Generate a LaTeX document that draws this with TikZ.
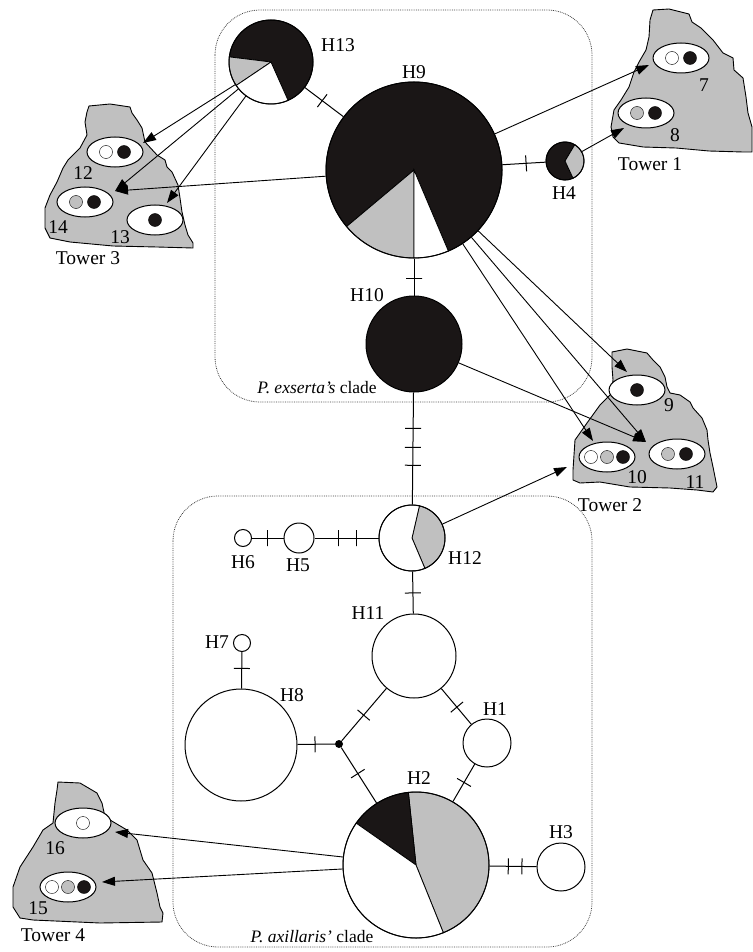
\documentclass[tikz,border=0pt]{standalone}
\usepackage{fontspec}
\setmainfont{Liberation Serif}
\usetikzlibrary{shapes.geometric, arrows.meta}
\definecolor{hapblack}{HTML}{1A1616}
\definecolor{hapgray}{HTML}{C0C0C0}
\definecolor{towergray}{HTML}{C0C0C0}
% one slice of a haplotype pie: centre, radius, start angle, end angle, colour
\newcommand{\pieslice}[5]{\filldraw[fill=#5, line width=0.8pt] (#1) -- ++(#3:#2) arc[start angle=#3, end angle=#4, radius=#2] -- cycle;}
\begin{document}
\begin{tikzpicture}[x=1pt, y=-1pt, >={Triangle[length=13pt,width=9pt]},
  hap/.style={circle, draw, line width=1pt, inner sep=0pt},
  mut/.style={draw, line width=1pt, inner sep=0pt, minimum width=0pt, minimum height=16pt, sloped},
  link/.style={line width=1pt},
  arr/.style={->, line width=0.9pt},
  site/.style={ellipse, draw, fill=white, line width=1pt, minimum width=56pt, minimum height=30pt},
  tower/.style={fill=towergray, draw, line width=0.9pt},
  clade/.style={draw=black!75, densely dotted, line width=0.8pt, rounded corners=45pt},
  lbl/.style={font=\fontsize{19.5}{22}\selectfont, inner sep=0pt}]
  \useasboundingbox (0,0) rectangle (752,952);
  % clades
  \draw[clade] (215,10) rectangle (592,402);
  \draw[clade] (173,496) rectangle (592,947);
  \node[lbl, font=\fontsize{17.5}{20}\selectfont] (cex) at (317,388) {\textit{P. exserta's} clade};
  \node[lbl, font=\fontsize{17.5}{20}\selectfont] (cax) at (312,937) {\textit{P. axillaris'} clade};
  % towers
  \filldraw[tower] (653,10) -- (669,9) -- (689,14) -- (692,22) -- (701,28) -- (713,40) -- (723,53) -- (733,58) -- (734,70) -- (743,78) -- (746,97) -- (748,113) -- (752,127) -- (752,152) -- (743,152) -- (709,151) -- (676,148) -- (643,147) -- (619,143) -- (613,137) -- (611,127) -- (614,110) -- (621,100) -- (629,87) -- (634,72) -- (639,62) -- (646,50) -- (649,37) -- (650,20) -- cycle;
  \filldraw[tower] (612,352) -- (627,349) -- (647,353) -- (653,360) -- (660,367) -- (665,377) -- (667,387) -- (670,393) -- (680,395) -- (690,402) -- (693,408) -- (702,418) -- (707,430) -- (708,440) -- (710,453) -- (713,467) -- (715,477) -- (717,487) -- (713,492) -- (697,490) -- (670,488) -- (630,487) -- (600,482) -- (580,483) -- (573,480) -- (573,470) -- (575,440) -- (587,423) -- (600,405) -- (611,394) -- (613,380) -- (612,367) -- cycle;
  \filldraw[tower] (89,106) -- (110,104) -- (130,107) -- (132,113) -- (137,120) -- (142,128) -- (145,142) -- (157,155) -- (165,160) -- (167,167) -- (172,172) -- (178,185) -- (180,198) -- (182,212) -- (185,225) -- (188,235) -- (193,243) -- (193,248) -- (157,247) -- (113,246) -- (70,242) -- (50,238) -- (45,228) -- (45,208) -- (50,195) -- (57,182) -- (63,168) -- (68,160) -- (73,155) -- (80,148) -- (87,135) -- (85,122) -- (87,112) -- cycle;
  \filldraw[tower] (58,782) -- (80,783) -- (97,793) -- (102,803) -- (105,817) -- (127,830) -- (137,840) -- (143,860) -- (152,873) -- (157,893) -- (160,907) -- (163,913) -- (162,922) -- (100,923) -- (33,920) -- (20,918) -- (13,907) -- (13,887) -- (20,867) -- (33,847) -- (43,830) -- (53,823) -- (55,803) -- (57,790) -- cycle;
  \node[lbl] (tw1) at (650,164) {Tower 1};
  \node[lbl] (tw2) at (610,505) {Tower 2};
  \node[lbl] (tw3) at (88,258) {Tower 3};
  \node[lbl] (tw4) at (53,935) {Tower 4};
  % sites
  \node[site] (s7) at (681,58) {};
  \filldraw[fill=white] ([xshift=-9pt]s7.center) circle (6.5pt);
  \filldraw[fill=hapblack] ([xshift=9pt]s7.center) circle (6.5pt);
  \node[site] (s8) at (646,113) {};
  \filldraw[fill=hapgray] ([xshift=-9pt]s8.center) circle (6.5pt);
  \filldraw[fill=hapblack] ([xshift=9pt]s8.center) circle (6.5pt);
  \node[site] (s9) at (637,390) {};
  \filldraw[fill=hapblack] (s9.center) circle (6.5pt);
  \node[site] (s10) at (607,457) {};
  \filldraw[fill=white] ([xshift=-16pt]s10.center) circle (6.5pt);
  \filldraw[fill=hapgray] (s10.center) circle (6.5pt);
  \filldraw[fill=hapblack] ([xshift=16pt]s10.center) circle (6.5pt);
  \node[site] (s11) at (677,454) {};
  \filldraw[fill=hapgray] ([xshift=-9pt]s11.center) circle (6.5pt);
  \filldraw[fill=hapblack] ([xshift=9pt]s11.center) circle (6.5pt);
  \node[site] (s12) at (115,152) {};
  \filldraw[fill=white] ([xshift=-9pt]s12.center) circle (6.5pt);
  \filldraw[fill=hapblack] ([xshift=9pt]s12.center) circle (6.5pt);
  \node[site] (s13) at (155,220) {};
  \filldraw[fill=hapblack] (s13.center) circle (6.5pt);
  \node[site] (s14) at (85,202) {};
  \filldraw[fill=hapgray] ([xshift=-9pt]s14.center) circle (6.5pt);
  \filldraw[fill=hapblack] ([xshift=9pt]s14.center) circle (6.5pt);
  \node[site] (s15) at (68,887) {};
  \filldraw[fill=white] ([xshift=-16pt]s15.center) circle (6.5pt);
  \filldraw[fill=hapgray] (s15.center) circle (6.5pt);
  \filldraw[fill=hapblack] ([xshift=16pt]s15.center) circle (6.5pt);
  \node[site] (s16) at (83,823) {};
  \filldraw[fill=white] (s16.center) circle (6.5pt);
  \node[lbl] (n7) at (704,85) {7};
  \node[lbl] (n8) at (675,135) {8};
  \node[lbl] (n9) at (669,405) {9};
  \node[lbl] (n10) at (637,477) {10};
  \node[lbl] (n11) at (695,482) {11};
  \node[lbl] (n12) at (83,173) {12};
  \node[lbl] (n13) at (120,237) {13};
  \node[lbl] (n14) at (58,227) {14};
  \node[lbl] (n15) at (38,908) {15};
  \node[lbl] (n16) at (55,848) {16};
  % haplotype pies
  \pieslice{271,62}{42pt}{-66}{173}{hapblack}
  \pieslice{271,62}{42pt}{173}{214}{hapgray}
  \pieslice{271,62}{42pt}{214}{294}{white}
  \pieslice{414,170}{88pt}{-67}{220}{hapblack}
  \pieslice{414,170}{88pt}{220}{270}{hapgray}
  \pieslice{414,170}{88pt}{270}{293}{white}
  \pieslice{565,161}{19pt}{59}{295}{hapblack}
  \pieslice{565,161}{19pt}{-65}{59}{hapgray}
  \pieslice{412,538}{33pt}{-67}{77}{hapgray}
  \pieslice{412,538}{33pt}{77}{293}{white}
  \pieslice{416,865}{73pt}{-68}{96}{hapgray}
  \pieslice{416,865}{73pt}{96}{145}{hapblack}
  \pieslice{416,865}{73pt}{145}{292}{white}
  % haplotypes
  \node[hap, minimum size=84pt] (H13) at (271,62) {};
  \node[hap, minimum size=176pt] (H9) at (414,170) {};
  \node[hap, minimum size=38pt] (H4) at (565,161) {};
  \node[hap, fill=hapblack, minimum size=96pt] (H10) at (414,344) {};
  \node[hap, minimum size=66pt] (H12) at (412,538) {};
  \node[hap, minimum size=30pt] (H5) at (299,538) {};
  \node[hap, minimum size=17pt] (H6) at (243,538) {};
  \node[hap, minimum size=84pt] (H11) at (414,656) {};
  \node[hap, minimum size=17pt] (H7) at (242,643) {};
  \node[hap, minimum size=112pt] (H8) at (241,745) {};
  \node[circle, fill=black, inner sep=0pt, minimum size=8pt] (mv) at (339,744) {};
  \node[hap, minimum size=48pt] (H1) at (487,743) {};
  \node[hap, minimum size=146pt] (H2) at (416,865) {};
  \node[hap, minimum size=48pt] (H3) at (561,867) {};
  \node[lbl] (lH13) at (338,45) {H13};
  \node[lbl] (lH9) at (414,72) {H9};
  \node[lbl] (lH4) at (564,193) {H4};
  \node[lbl] (lH10) at (367,295) {H10};
  \node[lbl] (lH12) at (465,558) {H12};
  \node[lbl] (lH5) at (298,565) {H5};
  \node[lbl] (lH6) at (243,562) {H6};
  \node[lbl] (lH11) at (368,613) {H11};
  \node[lbl] (lH7) at (217,642) {H7};
  \node[lbl] (lH8) at (292,695) {H8};
  \node[lbl] (lH1) at (495,709) {H1};
  \node[lbl] (lH2) at (419,778) {H2};
  \node[lbl] (lH3) at (561,832) {H3};
  % mutational steps
  \draw[link] (H13) -- node[mut, pos=0.45] {} (H9);
  \draw[link] (H9) -- node[mut, pos=0.55] {} (H4);
  \draw[link] (H9) -- node[mut, pos=0.55] {} (H10);
  \draw[link] (H10) -- node[mut, pos=0.32] {} node[mut, pos=0.49] {} node[mut, pos=0.65] {} (H12);
  \draw[link] (H6) -- node[mut, pos=0.48] {} (H5);
  \draw[link] (H5) -- node[mut, pos=0.37] {} node[mut, pos=0.65] {} (H12);
  \draw[link] (H12) -- node[mut, pos=0.51] {} (H11);
  \draw[link] (H7) -- node[mut, pos=0.45] {} (H8);
  \draw[link] (H8) -- node[mut, pos=0.47] {} (mv);
  \draw[link] (mv) -- node[mut, pos=0.49] {} (H11);
  \draw[link] (mv) -- node[mut, pos=0.47] {} (H2);
  \draw[link] (H11) -- node[mut, pos=0.52] {} (H1);
  \draw[link] (H1) -- node[mut, pos=0.49] {} (H2);
  \draw[link] (H2) -- node[mut, pos=0.40] {} node[mut, pos=0.69] {} (H3);
  % haplotypes found at each site
  \coordinate (t7) at (649,65);
  \coordinate (t8) at (624,128);
  \coordinate (t9) at (627,372);
  \coordinate (t10) at (593,441);
  \coordinate (t10b) at (567,467);
  \coordinate (t11) at (646,442);
  \coordinate (t12) at (143,143);
  \coordinate (t13) at (167,203);
  \coordinate (t14) at (115,191);
  \coordinate (t15) at (102,882);
  \coordinate (t16) at (115,832);
  \draw[arr] (H9) -- (t7);
  \draw[arr] (H4) -- (t8);
  \draw[arr] (H13) -- (t12);
  \draw[arr] (H13) -- (t14);
  \draw[arr] (H13) -- (t13);
  \draw[arr] (H9) -- (t14);
  \draw[arr] (H9) -- (t9);
  \draw[arr] (H9) -- (t10);
  \draw[arr] (H9) -- (t11);
  \draw[arr] (H10) -- (t11);
  \draw[arr] (H12) -- (t10b);
  \draw[arr] (H2) -- (t16);
  \draw[arr] (H2) -- (t15);
\end{tikzpicture}
\end{document}
